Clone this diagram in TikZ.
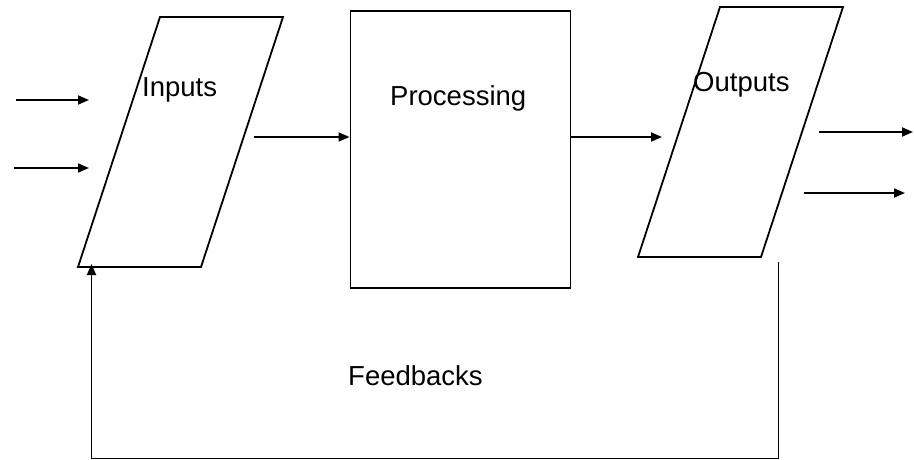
\documentclass[tikz,border=0pt]{standalone}
\usepackage{fontspec}
\setmainfont{Liberation Sans}
\usetikzlibrary{arrows.meta}
\begin{document}
\begin{tikzpicture}[x=1pt,y=-1pt,
  shapeline/.style={line width=1.8pt, line join=miter},
  arr/.style={line width=1.8pt,-{Triangle[length=11pt,width=9pt]}},
  lbl/.style={font=\fontsize{27.5}{30}\selectfont, inner sep=0pt, anchor=base west}]
\useasboundingbox (0,0) rectangle (914,460);
% Inputs parallelogram
\coordinate (i1) at (160,17);
\coordinate (i2) at (283,17);
\coordinate (i3) at (201,267);
\coordinate (i4) at (78,267);
\draw[shapeline] (i1) -- (i2) -- (i3) -- (i4) -- cycle;
% Outputs parallelogram
\coordinate (o1) at (720,7);
\coordinate (o2) at (843,7);
\coordinate (o3) at (761,257);
\coordinate (o4) at (638,257);
\draw[shapeline] (o1) -- (o2) -- (o3) -- (o4) -- cycle;
% Processing box
\node[draw, line width=1.8pt, minimum width=220pt, minimum height=277pt, inner sep=0pt, anchor=north west] (proc) at (349.5,10) {};
% labels
\node[lbl] (tin) at (142,97) {Inputs};
\node[lbl] (tout) at (693,92) {Outputs};
\node[lbl] (tproc) at (390,106) {Processing};
\node[lbl] (tfb) at (348,385) {Feedbacks};
% input arrows
\coordinate (a1s) at (16,100); \coordinate (a1e) at (89,100);
\coordinate (a2s) at (14,168); \coordinate (a2e) at (89,168);
\draw[arr] (a1s) -- (a1e);
\draw[arr] (a2s) -- (a2e);
% inputs -> processing
\coordinate (ip) at (254,137);
\draw[arr] (ip) -- (proc.west |- ip);
% processing -> outputs
\coordinate (po) at (662,137);
\draw[arr] (proc.east |- po) -- (po);
% output arrows
\coordinate (b1s) at (819,132); \coordinate (b1e) at (913,132);
\coordinate (b2s) at (804,193); \coordinate (b2e) at (905,193);
\draw[arr] (b1s) -- (b1e);
\draw[arr] (b2s) -- (b2e);
% feedback
\coordinate (fs) at (778.5,262);
\coordinate (fc) at (778.5,458.5);
\coordinate (fe) at (91.5,264);
\draw[arr] (fs) -- (fc) -| (fe);
\end{tikzpicture}
\end{document}
